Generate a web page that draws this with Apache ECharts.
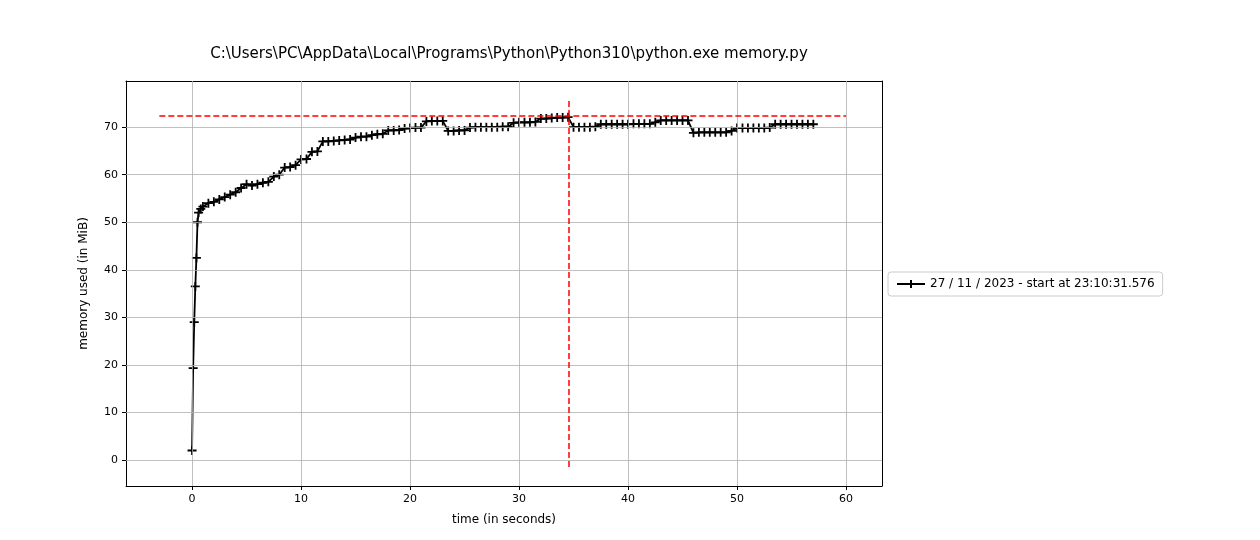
<!DOCTYPE html>
<html>
<head>
<meta charset="utf-8">
<script src="https://cdn.jsdelivr.net/npm/echarts@6/dist/echarts.min.js"></script>
<style>html,body{margin:0;background:#fff}#c{width:1260px;height:540px}</style>
</head>
<body>
<div id="c"></div>
<script>
// early ramp samples (seconds / MiB)
const rampTimes = [0, 0.1, 0.2, 0.3, 0.4, 0.5, 0.6, 0.8];
const rampMem = [2, 19.3, 29, 36.5, 42.5, 50, 52, 52.8];
// later samples, every 0.5 s from t = 1.0
const memUsed = [
  53.3, 54, 54.3, 54.8, 55.3, 55.8, 56.3, 57.2, 58, 57.7, 58, 58.3, 58.5, 59.6, 60, 61.5, 61.6, 62,
  63.2, 63.3, 64.8, 64.9, 67, 67, 67.1, 67.2, 67.3, 67.4, 67.8, 68, 68, 68.3, 68.5, 68.6, 69.3, 69.3,
  69.4, 69.7, 69.8, 69.9, 69.9, 71.2, 71.3, 71.3, 71.3, 69.2, 69.2, 69.3, 69.3, 69.9, 70, 70, 70, 70,
  70, 70.1, 70.1, 70.9, 71, 71, 71, 71.1, 71.8, 71.8, 71.9, 72, 72, 72.1, 70, 70, 70, 70, 70.1, 70.6,
  70.6, 70.6, 70.6, 70.6, 70.6, 70.7, 70.7, 70.7, 70.7, 71, 71.4, 71.4, 71.4, 71.4, 71.4, 71.4, 68.8,
  68.9, 68.9, 68.9, 68.9, 68.9, 68.9, 69.2, 69.8, 69.8, 69.8, 69.8, 69.8, 69.8, 69.9, 70.6, 70.6, 70.6,
  70.6, 70.6, 70.6, 70.6, 70.6
];
const xTicks = [0, 10, 20, 30, 40, 50, 60];
const yTicks = [0, 10, 20, 30, 40, 50, 60, 70];
const peakMem = 72.3;
const peakTime = 34.6;

const points = rampTimes.map((t, i) => [t, rampMem[i]]);
memUsed.forEach((v, i) => points.push([1 + i * 0.5, v]));

const grid = [];
xTicks.forEach(v => grid.push({ xAxis: v }));
yTicks.forEach(v => grid.push({ yAxis: v }));

const X_RANGE = [-6.06, 63.3];
const Y_RANGE = [-5.47, 79.7];
const frame = { show: true, onZero: false, lineStyle: { color: '#000' } };

const chart = echarts.init(document.getElementById('c'));
chart.setOption({
  animation: false,
  textStyle: { fontFamily: 'DejaVu Sans' },
  title: {
    text: 'C:\\Users\\PC\\AppData\\Local\\Programs\\Python\\Python310\\python.exe memory.py',
    left: 504, top: 42, textAlign: 'center',
    textStyle: { fontSize: 15, fontWeight: 'normal', color: '#000', fontFamily: 'DejaVu Sans' }
  },
  grid: { left: 126, right: 378, top: 81, bottom: 54 },
  legend: {
    data: ['27 / 11 / 2023 - start at 23:10:31.576'],
    left: 888, top: 272, orient: 'vertical',
    borderColor: '#ccc', borderWidth: 1, borderRadius: 3, padding: [6, 8],
    itemWidth: 28, itemHeight: 10,
    textStyle: { fontSize: 12, color: '#000' }
  },
  xAxis: [{
    type: 'value', min: X_RANGE[0], max: X_RANGE[1],
    name: 'time (in seconds)', nameLocation: 'middle', nameGap: 28,
    nameTextStyle: { fontSize: 12, color: '#000' },
    axisLine: frame,
    axisTick: { customValues: xTicks, length: 4, lineStyle: { color: '#000' } },
    axisLabel: { customValues: xTicks, color: '#000', fontSize: 11 },
    splitLine: { show: false }
  }, {
    type: 'value', position: 'top', min: X_RANGE[0], max: X_RANGE[1],
    axisLine: frame, axisTick: { show: false }, axisLabel: { show: false }, splitLine: { show: false }
  }],
  yAxis: [{
    type: 'value', min: Y_RANGE[0], max: Y_RANGE[1],
    name: 'memory used (in MiB)', nameLocation: 'middle', nameGap: 36,
    nameTextStyle: { fontSize: 12, color: '#000' },
    axisLine: frame,
    axisTick: { show: true, customValues: yTicks, length: 4, lineStyle: { color: '#000' } },
    axisLabel: { customValues: yTicks, color: '#000', fontSize: 11 },
    splitLine: { show: false }
  }, {
    type: 'value', position: 'right', min: Y_RANGE[0], max: Y_RANGE[1],
    axisLine: frame, axisTick: { show: false }, axisLabel: { show: false }, splitLine: { show: false }
  }],
  series: [
    {
      name: 'gridlines', type: 'line', data: [], silent: true,
      markLine: {
        symbol: 'none', silent: true, label: { show: false },
        lineStyle: { color: '#b0b0b0', type: 'solid', width: 0.8 },
        data: grid
      }
    },
    {
      name: '27 / 11 / 2023 - start at 23:10:31.576',
      type: 'line', data: points,
      lineStyle: { color: '#000', width: 1.8 },
      symbol: 'path://M0,-10L0,10M-10,0L10,0', symbolSize: 9,
      itemStyle: { color: '#000', borderColor: '#000', borderWidth: 1.8 },
      z: 3
    },
    {
      name: 'peak', type: 'line', data: [], silent: true,
      markLine: {
        symbol: 'none', silent: true, label: { show: false },
        lineStyle: { color: '#ff0000', type: [6, 3], width: 1.5 },
        data: [
          [{ coord: [-3, peakMem] }, { coord: [60, peakMem] }],
          [{ coord: [peakTime, -1.5] }, { coord: [peakTime, 75.9] }]
        ]
      },
      z: 4
    }
  ]
});
</script>
</body>
</html>
